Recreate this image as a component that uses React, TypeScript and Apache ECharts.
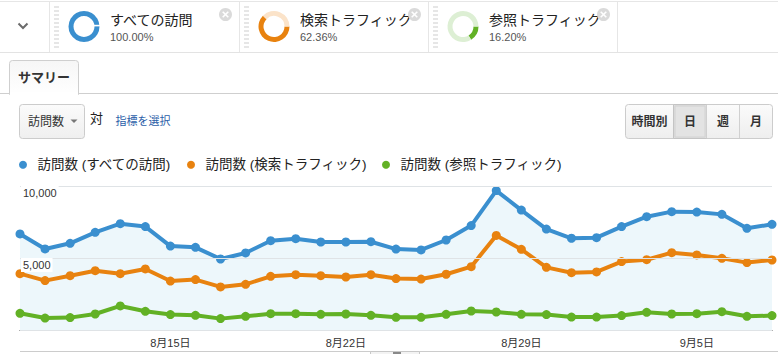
import React, { useEffect, useRef } from 'react';
import * as echarts from 'echarts';

const FONT = "'Liberation Sans', Arial, 'Noto Sans CJK JP', sans-serif";

const categories = [
  '8月9日', '8月10日', '8月11日', '8月12日', '8月13日', '8月14日', '8月15日', '8月16日',
  '8月17日', '8月18日', '8月19日', '8月20日', '8月21日', '8月22日', '8月23日', '8月24日',
  '8月25日', '8月26日', '8月27日', '8月28日', '8月29日', '8月30日', '8月31日', '9月1日',
  '9月2日', '9月3日', '9月4日', '9月5日', '9月6日', '9月7日', '9月8日',
];
const allVisits = [
  6670, 5630, 6020, 6780, 7380, 7180, 5830, 5740, 4930, 5350, 6200, 6340, 6110, 6110, 6130, 5620,
  5560, 6250, 7250, 9680, 8330, 7010, 6370, 6410, 7180, 7870, 8220, 8190, 8030, 7060, 7340,
];
const searchTraffic = [
  3910, 3430, 3770, 4120, 3910, 4240, 3400, 3500, 2990, 3170, 3730, 3840, 3770, 3680, 3840, 3570,
  3540, 3870, 4400, 6570, 5600, 4350, 3980, 4030, 4750, 4880, 5370, 5210, 4980, 4680, 4860,
];
const referralTraffic = [
  1160, 830, 860, 1110, 1670, 1300, 1070, 1020, 790, 950, 1130, 1130, 1090, 1110, 1020, 880,
  880, 1090, 1320, 1250, 1090, 1070, 900, 900, 1000, 1230, 1110, 1130, 1270, 950, 1000,
];
const segmentNames = ['すべての訪問', '検索トラフィック', '参照トラフィック'];
const segmentShares = [100, 62.36, 16.2];
const seriesNames = ['訪問数 (すべての訪問)', '訪問数 (検索トラフィック)', '訪問数 (参照トラフィック)'];
const timeButtons = ['時間別', '日', '週', '月'];
const yMax = 10000;
const yInterval = 5000;

const COLORS = ['#3a8fcf', '#e8820f', '#62b125'];
const LIGHT = ['#d7e9f6', '#fbe3c9', '#ddefd4'];

export default function App() {
  const ref = useRef<HTMLDivElement>(null);
  useEffect(() => {
    if (!ref.current) return;
    const chart = echarts.init(ref.current, null, { renderer: 'svg' });
    const segX = [49, 239, 428, 617];
    const g: any[] = [];
    // top bar borders
    g.push({ type: 'line', shape: { x1: 0, y1: 1.5, x2: 778, y2: 1.5 }, style: { stroke: '#e6e6e6', lineWidth: 1 } });
    g.push({ type: 'line', shape: { x1: 0, y1: 52.5, x2: 778, y2: 52.5 }, style: { stroke: '#e3e3e3', lineWidth: 1 } });
    segX.forEach((x) => {
      g.push({ type: 'line', shape: { x1: x + 0.5, y1: 2, x2: x + 0.5, y2: 52 }, style: { stroke: '#e6e6e6', lineWidth: 1 } });
    });
    // chevron
    g.push({ type: 'polyline', shape: { points: [[18.5, 23.5], [23, 28], [27.5, 23.5]] }, style: { stroke: '#6b6b6b', lineWidth: 2, fill: null } });
    const pieSeries: any[] = [];
    segmentNames.forEach((name, k) => {
      const x0 = segX[k];
      const cx = x0 + 35;
      // grip
      g.push({ type: 'line', shape: { x1: x0 + 7.5, y1: 6, x2: x0 + 7.5, y2: 48 }, style: { stroke: '#e6e6e6', lineWidth: 5, lineDash: [2, 2] } });
      pieSeries.push({
        type: 'pie', silent: true, center: [cx, 26.5], radius: [10.5, 15.5], startAngle: 0, clockwise: true,
        label: { show: false }, labelLine: { show: false }, emphasis: { disabled: true }, z: 5,
        data: [
          { value: segmentShares[k], itemStyle: { color: COLORS[k] } },
          { value: 100 - segmentShares[k], itemStyle: { color: LIGHT[k] } },
        ],
      });
      g.push({ type: 'text', style: { text: name, x: x0 + 61, y: 19.5, fill: '#222', fontSize: 14, fontFamily: FONT, verticalAlign: 'middle' } });
      g.push({ type: 'text', style: { text: segmentShares[k].toFixed(2) + '%', x: x0 + 61, y: 37, fill: '#555', fontSize: 11, fontFamily: FONT, verticalAlign: 'middle' } });
      // close icon
      const ccx = segX[k + 1] - 13.5;
      g.push({ type: 'circle', shape: { cx: ccx, cy: 14.5, r: 6.5 }, style: { fill: '#dadada' } });
      g.push({ type: 'line', shape: { x1: ccx - 2.8, y1: 11.7, x2: ccx + 2.8, y2: 17.3 }, style: { stroke: '#fff', lineWidth: 1.6 } });
      g.push({ type: 'line', shape: { x1: ccx + 2.8, y1: 11.7, x2: ccx - 2.8, y2: 17.3 }, style: { stroke: '#fff', lineWidth: 1.6 } });
    });
    // notch on full donut
    g.push({ type: 'rect', z: 10, shape: { x: 93.5, y: 24.8, width: 7, height: 1.6 }, style: { fill: '#fff' } });

    // tab
    g.push({ type: 'line', shape: { x1: 0, y1: 93.5, x2: 10, y2: 93.5 }, style: { stroke: '#cfcfcf', lineWidth: 1 } });
    g.push({ type: 'line', shape: { x1: 78.5, y1: 93.5, x2: 778, y2: 93.5 }, style: { stroke: '#cfcfcf', lineWidth: 1 } });
    g.push({
      type: 'rect', shape: { x: 9.5, y: 60.5, width: 69, height: 34, r: [3, 3, 0, 0] },
      style: { fill: new echarts.graphic.LinearGradient(0, 0, 0, 1, [{ offset: 0, color: '#f6f6f6' }, { offset: 1, color: '#ffffff' }]), stroke: '#cfcfcf', lineWidth: 1 },
    });
    g.push({ type: 'rect', shape: { x: 10, y: 92, width: 68, height: 3 }, style: { fill: '#fff' } });
    g.push({ type: 'text', style: { text: 'サマリー', x: 18, y: 77, fill: '#333', fontSize: 13, fontWeight: 'bold', fontFamily: FONT, verticalAlign: 'middle' } });

    // dropdown
    g.push({
      type: 'rect', shape: { x: 19.5, y: 104.5, width: 65, height: 34, r: 3 },
      style: { fill: new echarts.graphic.LinearGradient(0, 0, 0, 1, [{ offset: 0, color: '#fbfbfb' }, { offset: 1, color: '#efefef' }]), stroke: '#cccccc', lineWidth: 1 },
    });
    g.push({ type: 'text', style: { text: '訪問数', x: 28, y: 121.5, fill: '#333', fontSize: 12, fontFamily: FONT, verticalAlign: 'middle' } });
    g.push({ type: 'polygon', shape: { points: [[70.5, 119.5], [77.5, 119.5], [74, 123]] }, style: { fill: '#777' } });
    g.push({ type: 'text', style: { text: '対', x: 90, y: 118.5, fill: '#222', fontSize: 13, fontFamily: FONT, verticalAlign: 'middle' } });
    g.push({ type: 'text', style: { text: '指標を選択', x: 115.5, y: 120.5, fill: '#2b5ea8', fontSize: 11, fontFamily: FONT, verticalAlign: 'middle' } });

    // time buttons
    const bx = [625.5, 673.5, 706.5, 739.5, 772.5];
    g.push({
      type: 'rect', shape: { x: 625.5, y: 104.5, width: 147, height: 34, r: 3 },
      style: { fill: new echarts.graphic.LinearGradient(0, 0, 0, 1, [{ offset: 0, color: '#fbfbfb' }, { offset: 1, color: '#eeeeee' }]), stroke: '#cccccc', lineWidth: 1 },
    });
    g.push({ type: 'rect', shape: { x: 673.5, y: 104.5, width: 33, height: 34 }, style: { fill: '#dedede', stroke: '#c4c4c4', lineWidth: 1 } });
    g.push({ type: 'rect', shape: { x: 675, y: 106, width: 30, height: 31 }, style: { fill: '#e3e3e3', stroke: '#d2d2d2', lineWidth: 1 } });
    [706.5, 739.5].forEach((x) => g.push({ type: 'line', shape: { x1: x, y1: 105, x2: x, y2: 138 }, style: { stroke: '#d0d0d0', lineWidth: 1 } }));
    timeButtons.forEach((t, i) => {
      g.push({ type: 'text', style: { text: t, x: (bx[i] + bx[i + 1]) / 2, y: 121.5, fill: '#333', fontSize: 12, fontWeight: 'bold', fontFamily: FONT, align: 'center', verticalAlign: 'middle' } });
    });

    // bottom navigator hint
    g.push({ type: 'line', shape: { x1: 20, y1: 351.5, x2: 778, y2: 351.5 }, style: { stroke: '#cccccc', lineWidth: 1 } });
    g.push({ type: 'rect', shape: { x: 370.5, y: 351.5, width: 49, height: 4 }, style: { fill: '#f3f3f3', stroke: '#c8c8c8', lineWidth: 1 } });
    g.push({ type: 'line', shape: { x1: 393, y1: 353, x2: 401, y2: 353 }, style: { stroke: '#666', lineWidth: 1.5 } });

    const lineData = [allVisits, searchTraffic, referralTraffic];
    const lineSeries = lineData.map((d, k) => ({
      type: 'line', name: seriesNames[k], data: d, symbol: 'circle', symbolSize: 9, showSymbol: true,
      lineStyle: { width: 4, color: COLORS[k] }, itemStyle: { color: COLORS[k] },
      areaStyle: k === 0 ? { color: 'rgba(5,141,199,0.1)', origin: 'start' } : undefined,
      emphasis: { disabled: true }, z: 2 + k,
    }));

    const legendLeft = [14, 182, 377];
    chart.setOption({
      animation: false,
      textStyle: { fontFamily: FONT },
      grid: { left: 20, right: 6, top: 186, bottom: 24, containLabel: false },
      legend: seriesNames.map((n, k) => ({
        data: [n], icon: 'circle', itemWidth: 19, itemHeight: 8, left: legendLeft[k], top: 153,
        selectedMode: false, textStyle: { fontSize: 13.5, color: '#222', fontFamily: FONT },
      })),
      xAxis: {
        type: 'category', data: categories, boundaryGap: false,
        axisLine: { lineStyle: { color: '#333', width: 1 } }, axisTick: { show: false },
        axisLabel: { color: '#333', fontSize: 11, margin: 7, interval: (i: number) => i % 7 === 6 },
        splitLine: { show: false },
      },
      yAxis: {
        type: 'value', min: 0, max: yMax, interval: yInterval,
        axisLine: { show: false }, axisTick: { show: false },
        splitLine: { lineStyle: { color: '#dfe3e6', width: 1 } },
        axisLabel: {
          inside: true, margin: 1, color: '#333', fontSize: 11, verticalAlign: 'top', align: 'left',
          backgroundColor: '#fff', padding: [2, 2, 1, 2], showMinLabel: false,
          formatter: (v: number) => (v === 0 ? '' : v.toLocaleString('en-US')),
        },
        z: 10,
      },
      series: [...lineSeries, ...pieSeries],
      graphic: g,
    });
    return () => chart.dispose();
  }, []);
  return <div ref={ref} style={{ position: 'fixed', left: 0, top: 0, width: 778, height: 354, background: '#fff' }} />;
}
